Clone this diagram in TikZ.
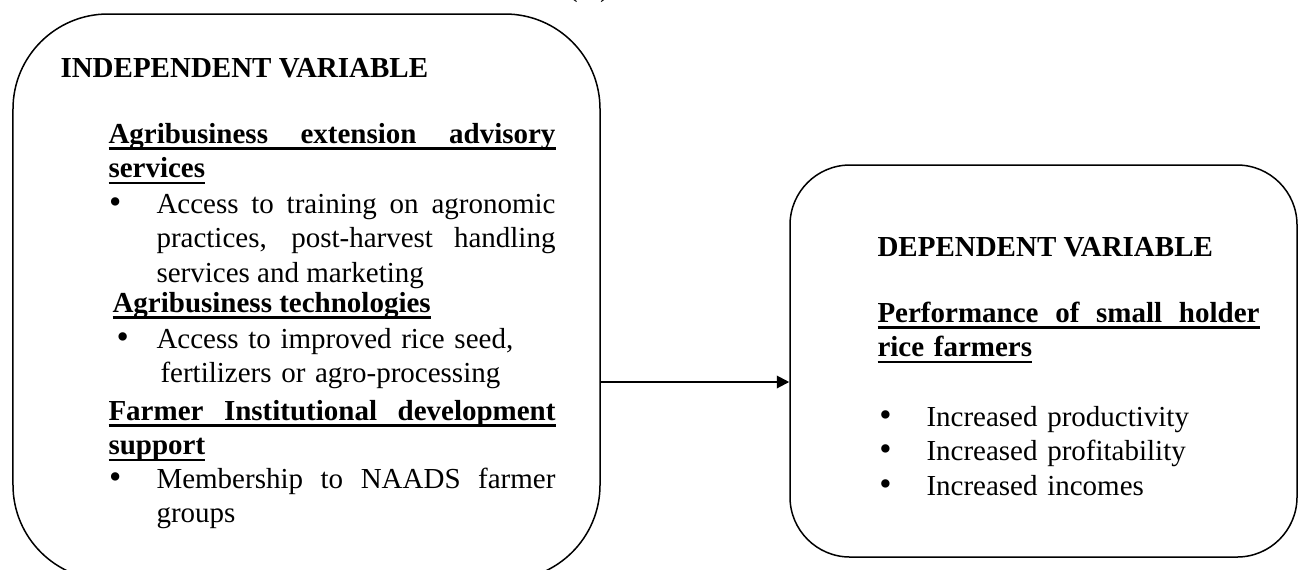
\documentclass[tikz,border=0pt]{standalone}
\usepackage{fontspec}
\setmainfont{Liberation Serif}
\usetikzlibrary{arrows.meta}
\newcommand{\ulbar}[1]{\setbox0\hbox{#1}\leavevmode\rlap{\rule[-2.6pt]{\wd0}{0.9pt}}\box0}
\newcommand{\itemdot}[1]{\leavevmode\llap{{\fontsize{14pt}{0pt}\selectfont\textbullet}\hspace{#1}}}

\begin{document}
\begin{tikzpicture}[x=0.4pt, y=-0.4pt,
  every node/.style={inner sep=0pt, font=\fontsize{11.6pt}{13.8pt}\selectfont},
  varbox/.style={draw, line width=0.6pt},
  txt/.style={anchor=base west, align=left},
  para/.style={anchor=base west, text width=#1, align=justify},
  lines/.style={anchor=base west, text width=#1, align=left},
  link/.style={line width=0.8pt, -{Triangle[length=5pt, width=5pt]}}]
\useasboundingbox (0,0) rectangle (1299,569);

\node[anchor=base] (eqnum) at (589,-4) {(\hspace{9pt})};

% the two boxes
\node[varbox, rounded corners=38pt, minimum width=234.8pt, minimum height=226.4pt] (indep) at (306.5,297) {};
\node[varbox, rounded corners=24pt, minimum width=202.8pt, minimum height=156.8pt] (dep) at (1043.5,361) {};

% left box text
\node[txt] (indeptitle) at (60,77) {\textbf{INDEPENDENT VARIABLE}};
\node[lines=180pt, font=\fontsize{11.6pt}{13.8pt}\selectfont\bfseries] (extension) at (108,143) {\ulbar{\hbox to 178.8pt{Agribusiness\hfil extension\hfil advisory}}\\\ulbar{services}};
\node[para=159.6pt] (training) at (156,213) {\itemdot{14pt}Access to training on agronomic practices, post-harvest handling services and marketing};
\node[txt] (technology) at (112,312) {\ulbar{\textbf{Agribusiness technologies}}};
\node[lines=160pt] (seed) at (156,348) {\itemdot{11pt}Access to improved rice seed,\\\hspace*{1.6pt}fertilizers or agro-processing};
\node[lines=180pt, font=\fontsize{11.6pt}{13.8pt}\selectfont\bfseries] (support) at (108,420) {\ulbar{\hbox to 178.8pt{Farmer\hfil Institutional\hfil development}}\\\ulbar{support}};
\node[para=159.6pt] (naads) at (156,488) {\itemdot{14pt}Membership to NAADS farmer groups};

% right box text
\node[txt] (deptitle) at (877,256) {\textbf{DEPENDENT VARIABLE}};
\node[lines=154pt, font=\fontsize{11.6pt}{13.8pt}\selectfont\bfseries] (performance) at (877,322) {\ulbar{\hbox to 152.8pt{Performance\hfil of\hfil small\hfil holder}}\\\ulbar{rice farmers}};
\node[lines=150pt] (outcomes) at (926,426) {\itemdot{14pt}Increased productivity\\\itemdot{14pt}Increased profitability\\\itemdot{14pt}Increased incomes};

% connector
\coordinate (linky) at (700,382);
\draw[link] (indep.east |- linky) -- (dep.west |- linky);
\end{tikzpicture}
\end{document}
